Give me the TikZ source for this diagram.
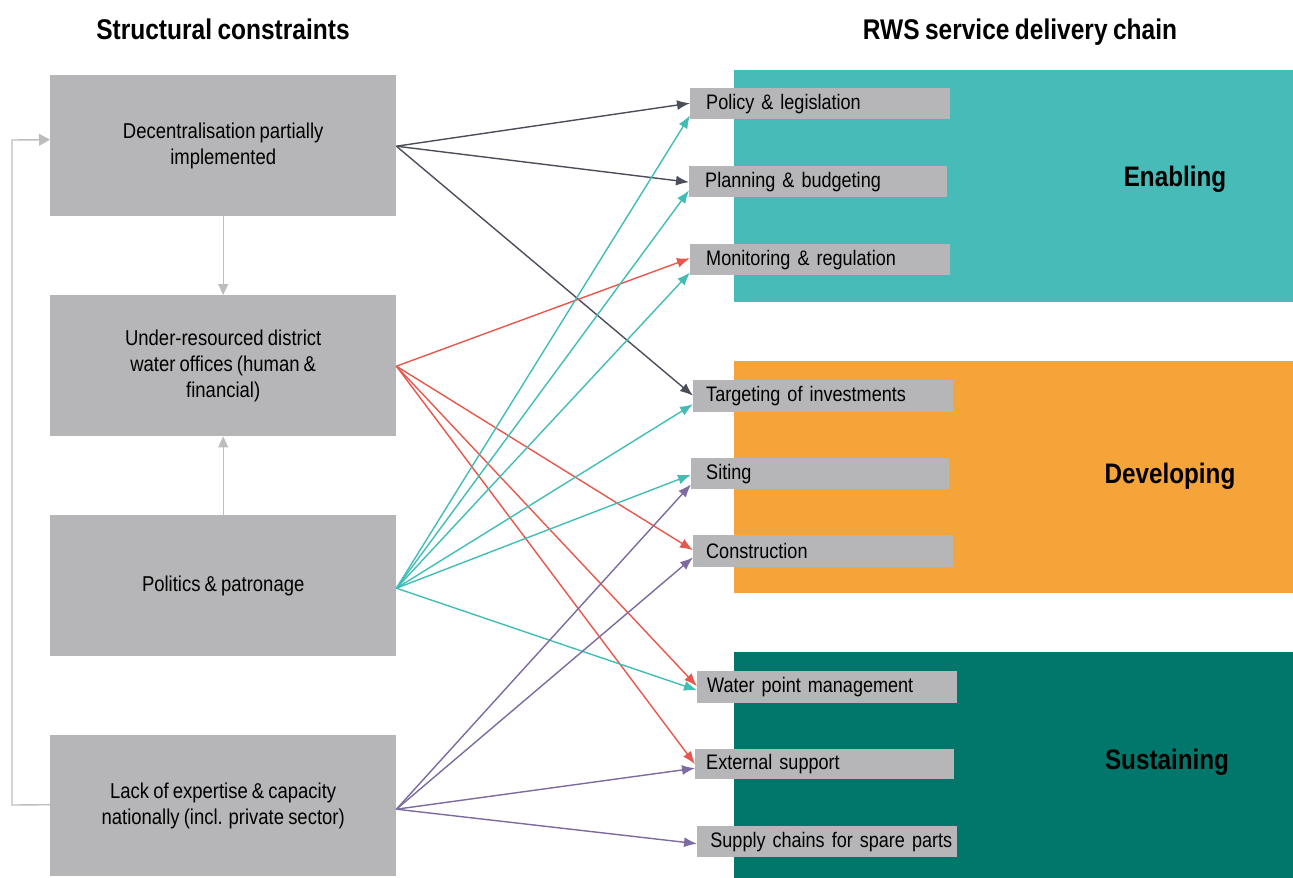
\documentclass[tikz,border=0pt]{standalone}
\usepackage{fontspec}
\setmainfont[FakeStretch=0.86,WordSpace=0.8]{Liberation Sans}
\usetikzlibrary{arrows.meta,calc}
\definecolor{boxgray}{HTML}{B6B6B8}
\definecolor{enab}{HTML}{47BBB8}
\definecolor{devel}{HTML}{F5A43A}
\definecolor{sust}{HTML}{00776A}
\definecolor{adark}{HTML}{4B4E5A}
\definecolor{ared}{HTML}{E8574B}
\definecolor{ateal}{HTML}{41BDB6}
\definecolor{apurp}{HTML}{7C6AA0}
\definecolor{lgray}{HTML}{BDBDBF}
\tikzset{
  bigbox/.style={fill=boxgray, minimum width=346pt, minimum height=141pt, inner sep=0pt, align=center, font=\fontsize{21.5}{26}\selectfont, anchor=north west},
  stepbox/.style={fill=boxgray, minimum width=260pt, minimum height=31pt, inner sep=0pt, text width=228pt, align=left, font=\fontsize{21}{23}\selectfont, anchor=north west},
  band/.style={inner sep=0pt, anchor=north west, minimum width=559pt},
  title/.style={font=\bfseries\fontsize{28.5}{32}\selectfont},
  bandlabel/.style={font=\bfseries\fontsize{28.2}{30}\selectfont},
  conn/.style={line width=1.4pt, -{Latex[length=13pt,width=10pt]}},
  greyconn/.style={line width=1.4pt, draw=lgray, -{Triangle[length=11pt,width=10pt]}}
}
\begin{document}
\begin{tikzpicture}[x=1pt,y=-1pt]
\useasboundingbox (0,0) rectangle (1293,878);
% bands
\node[band, fill=enab, minimum height=232pt] (en) at (734,70) {};
\node[band, fill=devel, minimum height=232pt] (dv) at (734,361) {};
\node[band, fill=sust, minimum height=226pt] (su) at (734,652) {};
\node[bandlabel] (lenab) at (1175,179) {Enabling};
\node[bandlabel] (ldev) at (1170,476) {Developing};
\node[bandlabel] (lsus) at (1167,762) {Sustaining};
% titles
\node[title] (t1) at (223,29) {Structural constraints};
\node[title] (t2) at (1020,32) {RWS service delivery chain};
% left boxes
\node[bigbox] (b1) at (50,75) {Decentralisation partially\\implemented};
\node[bigbox] (b2) at (50,295) {Under-resourced district\\water offices (human \&\\financial)};
\node[bigbox] (b3) at (50,515) {Politics \& patronage};
\node[bigbox] (b4) at (50,735) {Lack of expertise \& capacity\\nationally (incl. private sector)};
% step boxes
\node[stepbox] (pol) at (690,88) {Policy \& legislation};
\node[stepbox, minimum width=258pt, text width=226pt] (pla) at (689,166) {Planning \& budgeting};
\node[stepbox] (mon) at (690,244) {Monitoring \& regulation};
\node[stepbox, minimum height=32pt, text width=234pt] (tar) at (693,380) {Targeting of investments};
\node[stepbox, minimum width=258pt, text width=228pt] (sit) at (691,458) {Siting};
\node[stepbox, minimum height=32pt, text width=234pt] (con) at (693,535) {Construction};
\node[stepbox, minimum height=32pt, text width=240pt] (wat) at (697,671) {Water point management};
\node[stepbox, minimum width=259pt, minimum height=30pt, text width=237pt] (ext) at (695,749) {External support};
\node[stepbox, text width=250pt, align=right, minimum height=31pt] (sup) at (697,826) {Supply chains for spare parts};
% grey vertical connectors
\draw[greyconn] (b1.south) -- (b2.north);
\draw[greyconn] (b3.north) -- (b2.south);
% loop
\coordinate (lpa) at (12,805);
\coordinate (lpb) at (12,140);
\draw[line width=1.4pt, draw=lgray, -{Triangle[length=11pt,width=12pt]}] ($(b4.west)+(0,-1)$) -- (lpa) -- (lpb) -- ($(b1.west)+(0,-6)$);
% origins
\coordinate (o1) at ($(b1.east)+(0,0.5)$);
\coordinate (o2) at ($(b2.east)+(0,0.5)$);
\coordinate (o3) at ($(b3.east)+(0,2.5)$);
\coordinate (o4) at ($(b4.east)+(0,3.5)$);
% dark
\draw[conn, adark] (o1) -- ($(pol.west)+(0,-0.5)$);
\draw[conn, adark] (o1) -- ($(pla.west)+(0,0.5)$);
\draw[conn, adark] (o1) -- ($(tar.west)+(0,-0.5)$);
% red
\draw[conn, ared] (o2) -- ($(mon.west)+(0,-1.5)$);
\draw[conn, ared] (o2) -- ($(con.west)+(0,-1)$);
\draw[conn, ared] (o2) -- ($(wat.west)+(0,-1)$);
\draw[conn, ared] (o2) -- ($(ext.west)+(0,0)$);
% teal
\draw[conn, ateal] (o3) -- ($(pol.south west)+(0,-4)$);
\draw[conn, ateal] (o3) -- ($(pla.south west)+(0,-7)$);
\draw[conn, ateal] (o3) -- ($(mon.south west)+(0,-3)$);
\draw[conn, ateal] (o3) -- ($(tar.west)+(0,8)$);
\draw[conn, ateal] (o3) -- ($(sit.west)+(0,1)$);
\draw[conn, ateal] (o3) -- ($(wat.west)+(0,3)$);
% purple
\draw[conn, apurp] (o4) -- ($(sit.south west)+(0,-5)$);
\draw[conn, apurp] (o4) -- ($(con.south west)+(0,-10)$);
\draw[conn, apurp] (o4) -- ($(ext.west)+(0,4)$);
\draw[conn, apurp] (o4) -- ($(sup.west)+(0,2)$);
\end{tikzpicture}
\end{document}
